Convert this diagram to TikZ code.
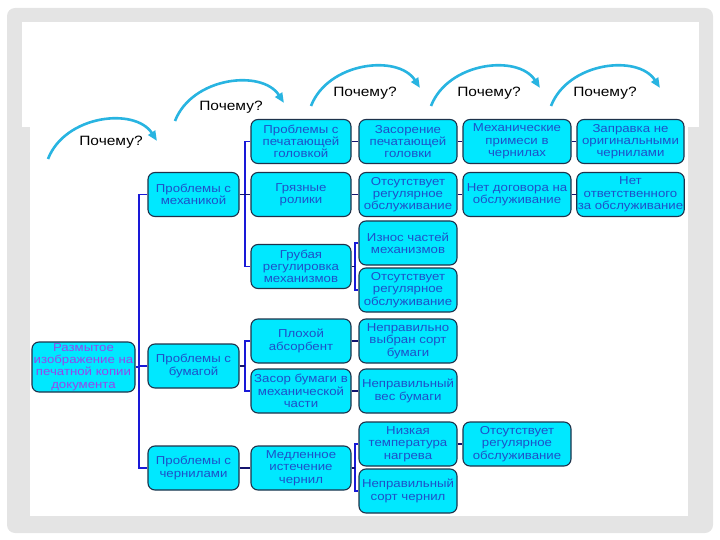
\documentclass[tikz,border=0pt]{standalone}
\usepackage{fontspec}
\newfontfamily\nf{Liberation Sans}[FakeStretch=1.15]
\usetikzlibrary{arrows.meta}
\definecolor{boxfill}{RGB}{0,232,255}
\definecolor{boxline}{RGB}{30,50,75}
\definecolor{boxtext}{RGB}{30,80,200}
\definecolor{roottext}{RGB}{150,70,235}
\definecolor{busblue}{RGB}{25,25,215}
\definecolor{linknavy}{RGB}{20,20,110}
\definecolor{whyarc}{RGB}{40,180,225}
\definecolor{framegray}{RGB}{228,228,228}
\tikzset{
  box/.style={draw=boxline, line width=1.1pt, fill=boxfill, rounded corners=7pt,
    align=center, inner sep=1pt, text=boxtext,
    font=\nf\fontsize{11.5}{12.3}\selectfont, minimum height=44pt},
  colB/.style={box, minimum width=91pt},
  colC/.style={box, minimum width=100pt},
  colD/.style={box, minimum width=98pt},
  colE/.style={box, minimum width=108pt},
  colF/.style={box, minimum width=107pt},
  bus/.style={draw=busblue, line width=1.1pt},
  link/.style={draw=linknavy, line width=1.4pt},
  why/.style={draw=whyarc, line width=2.6pt, -{Triangle[length=10pt,width=8pt]}},
  whytext/.style={font=\nf\fontsize{13.5}{14}\selectfont, text=black, inner sep=0pt}
}
\begin{document}
\begin{tikzpicture}[x=1pt,y=-1pt]
\useasboundingbox (0,0) rectangle (720,540);
% frame
\fill[framegray, rounded corners=8pt] (7,8) rectangle (713,533);
\fill[white] (22,22) rectangle (699,127);
\fill[white] (30,127) rectangle (688,516);

% why arcs
\coordinate (w1) at (48,159);
\coordinate (w2) at (175,121);
\coordinate (w3) at (311,106);
\coordinate (w4) at (431,106);
\coordinate (w5) at (551,106);
\foreach \w in {w1,w2,w3,w4,w5}{
  \draw[why] (\w) .. controls +(17,-44) and +(-22,-34) .. +(109,-18);
}
\node[whytext] (q1) at (111,142) {Почему?};
\node[whytext] (q2) at (231,107) {Почему?};
\node[whytext] (q3) at (365,93) {Почему?};
\node[whytext] (q4) at (489,93) {Почему?};
\node[whytext] (q5) at (605,93) {Почему?};

% nodes
\node[box, minimum width=103pt, minimum height=50pt, text=roottext] (root) at (83.5,367)
  {Размытое\\изображение на\\печатной копии\\документа};
\node[colB] (mech) at (193.5,194.5) {Проблемы с\\механикой};
\node[colB] (paper) at (193.5,366) {Проблемы с\\бумагой};
\node[colB] (ink) at (193.5,468) {Проблемы с\\чернилами};

\node[colC] (head) at (301,141.5) {Проблемы с\\печатающей\\головкой};
\node[colC] (rollers) at (301,194.5) {Грязные\\ролики};
\node[colC] (rough) at (301,266.5) {Грубая\\регулировка\\механизмов};
\node[colC] (absorb) at (301,341) {Плохой\\абсорбент};
\node[colC] (jam) at (301,391) {Засор бумаги в\\механической\\части};
\node[colC] (slow) at (301,468) {Медленное\\истечение\\чернил};

\node[colD] (clog) at (408,141.5) {Засорение\\печатающей\\головки};
\node[colD] (nomaintA) at (408,194.5) {Отсутствует\\регулярное\\обслуживание};
\node[colD] (wear) at (408,243) {Износ частей\\механизмов};
\node[colD] (nomaintB) at (408,290) {Отсутствует\\регулярное\\обслуживание};
\node[colD] (wrongpaper) at (408,341) {Неправильно\\выбран сорт\\бумаги};
\node[colD] (weight) at (408,391) {Неправильный\\вес бумаги};
\node[colD] (lowtemp) at (408,444) {Низкая\\температура\\нагрева};
\node[colD] (wrongink) at (408,491) {Неправильный\\сорт чернил};

\node[colE] (impur) at (517,141.5) {Механические\\примеси в\\чернилах};
\node[colE] (nocontract) at (517,194.5) {Нет договора на\\обслуживание};
\node[colE] (nomaintC) at (517,444) {Отсутствует\\регулярное\\обслуживание};

\node[colF] (refill) at (630.5,141.5) {Заправка не\\оригинальными\\чернилами};
\node[colF] (noresp) at (630.5,194.5) {Нет\\ответственного\\за обслуживание};

% bus positions
\coordinate (bx1) at (139,0);
\coordinate (bx2) at (245,0);
\coordinate (bx3) at (355,0);

% root bus
\draw[bus] (mech.west) -- (mech.west -| bx1) -- (ink.west -| bx1) -- (ink.west);
\draw[bus] (root.east) -- (root.east -| bx1);
\draw[bus] (paper.west) -- (paper.west -| bx1);

% mechanics bus
\draw[bus] (head.west) -- (head.west -| bx2) -- (rough.west -| bx2) -- (rough.west);
\draw[link] (mech.east) -- (rollers.west);

% rough bus
\draw[bus] (wear.west) -- (wear.west -| bx3) -- (nomaintB.west -| bx3) -- (nomaintB.west);
\draw[link] (rough.east) -- (rough.east -| bx3);

% paper bus
\draw[bus] (absorb.west) -- (absorb.west -| bx2) -- (jam.west -| bx2) -- (jam.west);
\draw[link] (paper.east) -- (paper.east -| bx2);

% ink
\draw[link] (ink.east) -- (slow.west);
\draw[bus] (lowtemp.west) -- (lowtemp.west -| bx3) -- (wrongink.west -| bx3) -- (wrongink.west);
\draw[link] (slow.east) -- (slow.east -| bx3);

% chains
\draw[link] (head.east) -- (clog.west);
\draw[link] (clog.east) -- (impur.west);
\draw[link] (impur.east) -- (refill.west);
\draw[link] (rollers.east) -- (nomaintA.west);
\draw[link] (nomaintA.east) -- (nocontract.west);
\draw[link] (nocontract.east) -- (noresp.west);
\draw[link] (absorb.east) -- (wrongpaper.west);
\draw[link] (jam.east) -- (weight.west);
\draw[link] (lowtemp.east) -- (nomaintC.west);
\end{tikzpicture}
\end{document}
